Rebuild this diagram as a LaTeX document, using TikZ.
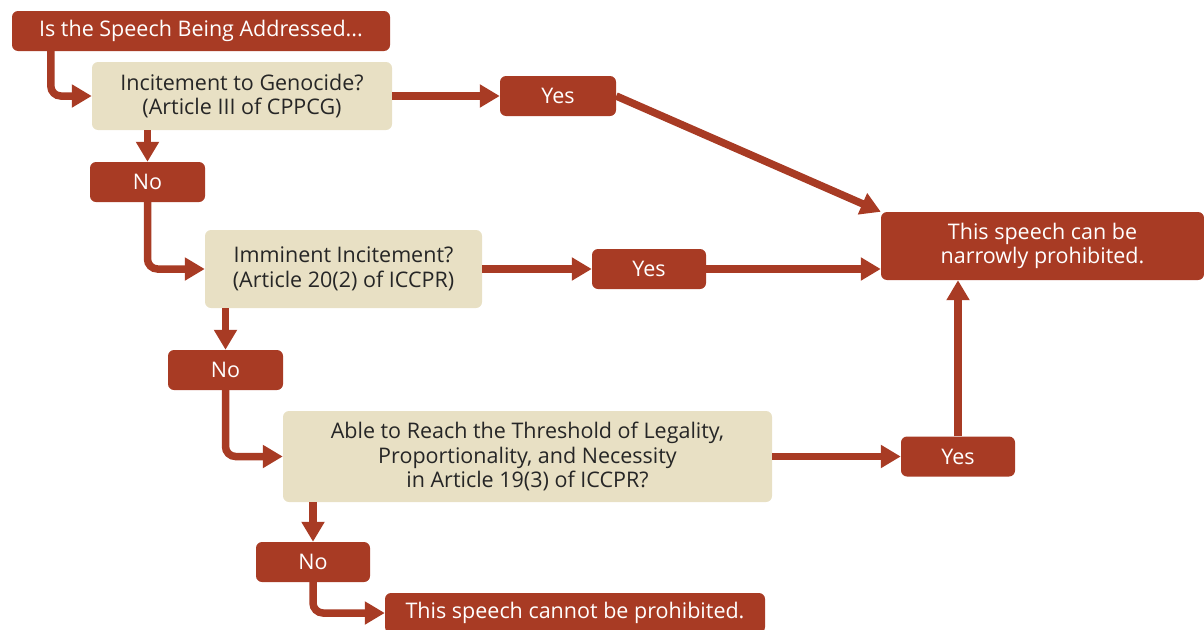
\documentclass[tikz,border=0pt]{standalone}
\usepackage{fontspec}
\setmainfont{Open Sans}
\usetikzlibrary{arrows.meta}

\definecolor{rust}{HTML}{A83B24}
\definecolor{sand}{HTML}{E8E0C4}

\begin{document}
\begin{tikzpicture}[x=1pt, y=-1pt,
  redbox/.style={fill=rust, text=white, rounded corners=6pt, inner sep=0pt, align=center,
    font=\fontsize{21.5}{24.5}\selectfont},
  sandbox/.style={fill=sand, text=black!85, rounded corners=6pt, inner sep=0pt, align=center,
    font=\fontsize{21.5}{24.5}\selectfont},
  flow/.style={draw=rust, line width=7.5pt, rounded corners=10pt,
    -{Triangle[length=20pt,width=22pt]}}]

\useasboundingbox (0,0) rectangle (1204,629);

\node[redbox, minimum width=378pt, minimum height=40pt] (start) at (201,31) {Is the Speech Being Addressed...};

\node[sandbox, minimum width=300pt, minimum height=68pt] (q1) at (242,96) {Incitement to Genocide?\\(Article III of CPPCG)};
\node[redbox, minimum width=116pt, minimum height=40pt] (yes1) at (558,96) {Yes};
\node[redbox, minimum width=115pt, minimum height=40pt] (no1) at (147.5,182) {No};

\node[sandbox, minimum width=277pt, minimum height=78pt] (q2) at (343.5,269) {Imminent Incitement?\\(Article 20(2) of ICCPR)};
\node[redbox, minimum width=114pt, minimum height=40pt] (yes2) at (649,269) {Yes};
\node[redbox, minimum width=115pt, minimum height=40pt] (no2) at (225.5,370) {No};

\node[sandbox, minimum width=489pt, minimum height=91pt] (q3) at (527.5,456.5) {Able to Reach the Threshold of Legality,\\Proportionality, and Necessity\\in Article 19(3) of ICCPR?};
\node[redbox, minimum width=114pt, minimum height=40pt] (yes3) at (958,456.5) {Yes};
\node[redbox, minimum width=114pt, minimum height=40pt] (no3) at (313,562) {No};

\node[redbox, minimum width=323pt, minimum height=68pt] (result) at (1042.5,246) {This speech can be\\narrowly prohibited.};
\node[redbox, minimum width=380pt, minimum height=40pt] (final) at (575,613) {This speech cannot be prohibited.};

\draw[flow] ([xshift=39pt]start.south west) |- (q1.west);
\draw[flow] (q1.east) -- (yes1.west);
\draw[flow] (yes1.east) -- (result.north west);
\draw[flow] (q1.south -| no1.north) -- (no1.north);

\draw[flow] (no1.south) |- (q2.west);
\draw[flow] (q2.east) -- (yes2.west);
\draw[flow] (yes2.east) -- (yes2.east -| result.west);
\draw[flow] (q2.south -| no2.north) -- (no2.north);

\draw[flow] (no2.south) |- (q3.west);
\draw[flow] (q3.east) -- (yes3.west);
\draw[flow] (yes3.north) -- (yes3.north |- result.south);
\draw[flow] (q3.south -| no3.north) -- (no3.north);

\draw[flow] (no3.south) |- (final.west);

\end{tikzpicture}
\end{document}
